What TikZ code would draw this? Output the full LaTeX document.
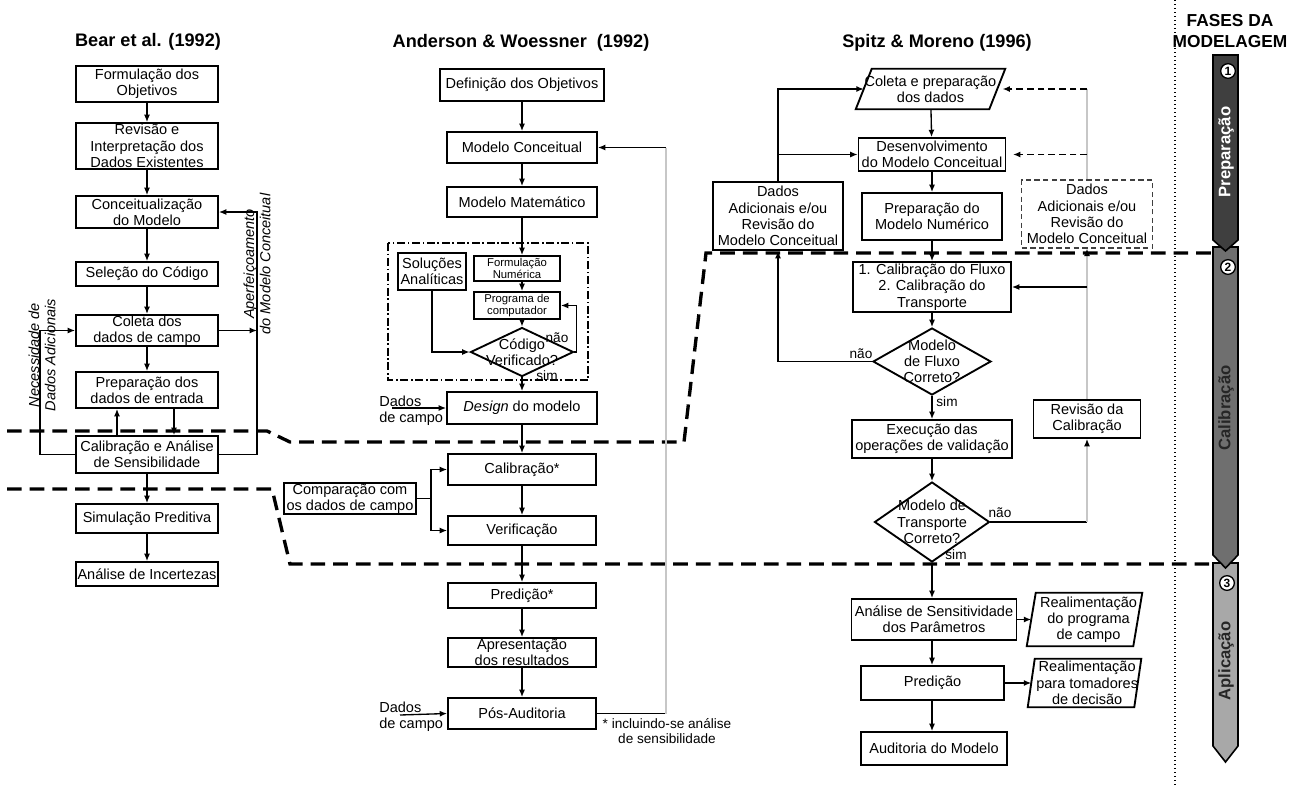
\documentclass[tikz,border=0pt]{standalone}
\usepackage{fontspec}
\setmainfont{Liberation Sans}
\usetikzlibrary{arrows.meta,shapes.geometric,calc}
\newcommand{\boxfont}{\fontsize{10.9}{12.2}\selectfont}
\newcommand{\itboxfont}{\fontsize{10.9}{12.2}\selectfont\itshape}
\newcommand{\lblfont}{\fontsize{10.2}{11.5}\selectfont}
\newcommand{\tinybox}{\fontsize{8.5}{9.2}\selectfont}
\newcommand{\ttlfont}{\fontsize{13.6}{16}\selectfont\bfseries}
\newcommand{\hdrfont}{\fontsize{13}{16}\selectfont\bfseries}
\newcommand{\phfont}{\fontsize{12.5}{12.5}\selectfont\bfseries}
\newcommand{\numfont}{\fontsize{9}{9}\selectfont\bfseries}
\definecolor{phA}{HTML}{3F3F3F}
\definecolor{phB}{HTML}{6F6F6F}
\definecolor{phC}{HTML}{A8A8A8}
\tikzset{
  bx/.style={draw, line width=1.4pt, fill=white, align=center, inner sep=0.5pt, font=\boxfont},
  wh/.style 2 args={minimum width=#1*0.75pt, minimum height=#2*0.75pt},
  dia/.style={diamond, draw, line width=1.4pt, fill=white, inner sep=0pt},
  paral/.style={align=center, inner sep=0pt, font=\boxfont},
  pline/.style={line width=1.4pt, fill=white},
  dlab/.style={font=\boxfont, align=center, inner sep=0pt},
  arr/.style={line width=1pt, -{Latex[length=5.5pt,width=4.5pt]}},
  ln/.style={line width=1pt},
  grayln/.style={line width=1pt, draw=black!22},
  grayarr/.style={line width=1pt, draw=black!22, -{Latex[length=5.5pt,width=4.5pt,color=black]}},
  darr/.style={line width=1pt, dash pattern=on 5pt off 3pt, -{Latex[length=5.5pt,width=4.5pt]}},
  dashbx/.style={bx, line width=1pt, draw=black!75, dash pattern=on 4pt off 2.5pt},
  phline/.style={line width=2.5pt, dash pattern=on 11pt off 6pt},
  dotl/.style={line width=1.2pt, dash pattern=on 1.1pt off 1.9pt},
  ddash/.style={line width=1.1pt, dash pattern=on 6pt off 2pt on 1.2pt off 2pt},
  lbl/.style={font=\lblfont, inner sep=0pt},
  rotlbl/.style={rotate=90, align=center, font=\itboxfont, inner sep=0pt},
  ttl/.style={font=\ttlfont, inner sep=0pt},
  phtext/.style={rotate=90, font=\phfont, inner sep=0pt},
  numc/.style={circle, draw, fill=white, line width=1pt, inner sep=0pt, minimum size=11pt, font=\numfont},
}
\begin{document}
\begin{tikzpicture}[x=0.75pt, y=-0.75pt]
\useasboundingbox (0,0) rectangle (1298,786);
\fill[white] (0,0) rectangle (1298,786);

% phase boundaries and dotted separator
\draw[dotl] (1175,0) -- (1175,786);
\draw[phline] (7,431) -- (267,431) -- (290,442) -- (684,442) -- (706,253) -- (1213,253);
\draw[phline] (7,489) -- (272,489) -- (290,564) -- (1213,564);

% titles
\node[ttl] (t1) at (148,42) {Bear et al. (1992)};
\node[ttl] (t2) at (521,43) {Anderson \& Woessner\ \ (1992)};
\node[ttl] (t3) at (937,43) {Spitz \& Moreno (1996)};
\node[font=\hdrfont, align=center, inner sep=0pt] (fases) at (1230,31) {FASES DA\\MODELAGEM};

% ---------------- Bear et al.
\node[bx, wh={142}{36}] (b1) at (147,84) {Formulação dos\\Objetivos};
\node[bx, wh={142}{46}] (b2) at (147,146) {Revisão e\\Interpretação dos\\Dados Existentes};
\node[bx, wh={142}{32}] (b3) at (147,212) {Conceitualização\\do Modelo};
\node[bx, wh={142}{24}] (b4) at (147,274) {Seleção do Código};
\node[bx, wh={142}{29}] (b5) at (147,330.5) {Coleta dos\\dados de campo};
\node[bx, wh={142}{36}] (b6) at (147,390) {Preparação dos\\dados de entrada};
\node[bx, wh={142}{37}] (b7) at (147,454.5) {Calibração e Análise\\de Sensibilidade};
\node[bx, wh={142}{29}] (b8) at (147,518.5) {Simulação Preditiva};
\node[bx, wh={142}{24}] (b9) at (147,574) {Análise de Incertezas};
\foreach \a/\b in {b1/b2,b2/b3,b3/b4,b4/b5,b5/b6,b7/b8,b8/b9} \draw[arr] (\a) -- (\b);
\draw[arr] ([xshift=-22.5pt]b7.north) -- ([xshift=-22.5pt]b6.south);
\draw[arr] ([xshift=20.25pt]b6.south) -- ([xshift=20.25pt]b7.north);
\coordinate (fbL) at (40,0);
\coordinate (fbR) at (257,0);
\draw[arr] (b7.west) -| (fbL |- b5.west) -- (b5.west);
\draw[arr] (b7.east) -| (fbR |- b3.east) -- (b3.east);
\draw[arr] (b5.east) -- (fbR |- b5.east);
\node[rotlbl] (nda) at (42,355) {Necessidade de\\Dados Adicionais};
\node[rotlbl] (amc) at (257,264) {Aperfeiçoamento\\do Modelo Conceitual};

% ---------------- Anderson & Woessner
\node[bx, wh={164}{32}] (a1) at (522,85) {Definição dos Objetivos};
\node[bx, wh={150}{31}] (a2) at (522,147.5) {Modelo Conceitual};
\node[bx, wh={150}{30}] (a3) at (522,202) {Modelo Matemático};
\draw[ddash] (388,243) rectangle (588,380);
\node[bx, wh={68}{37}] (sol) at (432,271.5) {Soluções\\Analíticas};
\node[bx, wh={86}{25}, font=\tinybox] (fn) at (517,268.5) {Formulação\\Numérica};
\node[bx, wh={86}{27}, font=\tinybox] (prog) at (517,305.5) {Programa de\\computador};
\node[dia, wh={103}{49}, label={[dlab]center:{Código\\Verificado?}}] (cv) at (522,352) {};
\node[lbl] (nao1) at (557,338) {não};
\node[lbl] (sim1) at (547,376) {sim};
\node[bx, wh={150}{32}] (a4) at (522,408) {\textit{Design} do modelo};
\node[lbl, align=left, anchor=west, font=\boxfont] (dc1) at (379,411) {Dados\\de campo};
\coordinate (dc1a) at (392,408);
\node[bx, wh={148}{31}] (a5) at (522,469.5) {Calibração*};
\node[bx, wh={148}{29}] (a6) at (522,530.5) {Verificação};
\node[bx, wh={132}{31}] (cmp) at (350,498.5) {Comparação com\\os dados de campo};
\coordinate (fork) at (431,498.5);
\node[bx, wh={148}{25}] (a7) at (522,595.5) {Predição*};
\node[bx, wh={148}{29}] (a8) at (522,652.5) {Apresentação\\dos resultados};
\node[bx, wh={148}{31}] (a9) at (522,713.5) {Pós-Auditoria};
\node[lbl, align=left, anchor=west, font=\boxfont] (dc2) at (379,717) {Dados\\de campo};
\coordinate (dc2a) at (400,715);
\node[lbl, align=center] (fnote) at (667,731) {* incluindo-se análise\\de sensibilidade};
\coordinate (fbA) at (666,0);

\draw[arr] (a1) -- (a2);
\draw[arr] (a2) -- (a3);
\draw[arr] (a3.south) -- (a3.south |- fn.north);
\draw[arr] (a3.south |- fn.south) -- (a3.south |- prog.north);
\draw[arr] (a3.south |- prog.south) -- (cv.north);
\draw[arr] (sol.south) |- (cv.west);
\draw[arr] (cv.east) -- ++(2,0) |- (prog.east);
\draw[arr] (cv.south) -- (a4.north);
\draw[arr] (dc1a) -- (a4.west);
\draw[arr] (a4) -- (a5);
\draw[ln] (cmp.east) -- (fork);
\draw[arr] (fork) |- (a5.west);
\draw[arr] (fork) |- (a6.west);
\draw[arr] (a5) -- (a6);
\draw[arr] (a6) -- (a7);
\draw[arr] (a7) -- (a8);
\draw[arr] (a8) -- (a9);
\draw[arr] (dc2a) -- (a9.west);
\draw[ln] (a9.east) -- (fbA |- a9.east);
\draw[grayln] (fbA |- a9.east) -- (fbA |- a2.east);
\draw[arr] (fbA |- a2.east) -- (a2.east);

% ---------------- Spitz & Moreno
\node[paral, wh={133}{40}] (s1) at (930.5,89) {};
\draw[pline] ($(s1.south west)+(-8,0)$) -- ($(s1.south east)+(-8,0)$) -- ($(s1.north east)+(8,0)$) -- ($(s1.north west)+(8,0)$) -- cycle;
\node[paral] (s1t) at (s1) {Coleta e preparação\\dos dados};
\node[bx, wh={147}{33}] (s2) at (932,154.5) {Desenvolvimento\\do Modelo Conceitual};
\node[bx, wh={140}{47}] (s3) at (932,216.5) {Preparação do\\Modelo Numérico};
\node[bx, wh={130}{68}] (sL) at (778,216) {Dados\\Adicionais e/ou\\Revisão do\\Modelo Conceitual};
\node[dashbx, wh={131}{68}] (sR) at (1087,214) {Dados\\Adicionais e/ou\\Revisão do\\Modelo Conceitual};
\node[bx, wh={158}{50}] (s4) at (932,287) {1. Calibração do Fluxo\\2. Calibração do\\Transporte};
\node[dia, wh={118}{67}, label={[dlab]center:{Modelo\\de Fluxo\\Correto?}}] (d1) at (932,361.5) {};
\node[bx, wh={160}{38}] (s5) at (932,439) {Execução das\\operações de validação};
\node[dia, wh={115}{80}, label={[dlab]center:{Modelo de\\Transporte\\Correto?}}] (d2) at (932,522) {};
\node[bx, wh={107}{38}] (rev) at (1087,419) {Revisão da\\Calibração};
\node[bx, wh={165}{41}] (s6) at (934,619.5) {Análise de Sensitividade\\dos Parâmetros};
\node[paral, wh={106}{53}] (p1) at (1084.5,619.5) {};
\draw[pline] ($(p1.south west)+(-4.5,0)$) -- ($(p1.south east)+(-4.5,0)$) -- ($(p1.north east)+(4.5,0)$) -- ($(p1.north west)+(4.5,0)$) -- cycle;
\node[paral, xshift=3pt] (p1t) at (p1) {Realimentação\\do programa\\de campo};
\node[bx, wh={143}{34}] (s7) at (932.5,683) {Predição};
\node[paral, wh={106}{48}] (p2) at (1084.5,683) {};
\draw[pline] ($(p2.south west)+(-3.5,0)$) -- ($(p2.south east)+(-3.5,0)$) -- ($(p2.north east)+(3.5,0)$) -- ($(p2.north west)+(3.5,0)$) -- cycle;
\node[paral, xshift=2pt] (p2t) at (p2) {Realimentação\\para tomadores\\de decisão};
\node[bx, wh={146}{33}] (s8) at (934,748.5) {Auditoria do Modelo};
\node[lbl] (nao2) at (861,354) {não};
\node[lbl] (sim2) at (947,402) {sim};
\node[lbl] (nao3) at (1000,513) {não};
\node[lbl] (sim3) at (956,555) {sim};

\draw[arr] (s1) -- (s2);
\draw[arr] (s2) -- (s3);
\draw[arr] (s3) -- (s4);
\draw[arr] (s4) -- (d1);
\draw[arr] (d1) -- (s5);
\draw[arr] (s5) -- (d2);
\draw[arr] (d2.south) -- (d2.south |- s6.north);
\draw[arr] (d2.south |- s6.south) -- (d2.south |- s7.north);
\draw[arr] (d2.south |- s7.south) -- (d2.south |- s8.north);
\draw[arr] (s6.east) -- (p1.west);
\draw[arr] (s7.east) -- (p2.west);
\draw[arr] (sL.north) |- (s1.west);
\draw[arr] (sL.north |- s2.west) -- (s2.west);
\draw[arr] (d1.west) -| (sL.south);
\draw[grayln] (sR.north) -- (sR.north |- s1.east);
\draw[darr, shorten >=4pt] (sR.north |- s1.east) -- (s1.east);
\draw[darr, shorten >=5pt] (sR.north |- s2.east) -- (s2.east);
\draw[ln] (d2.east) -- (rev.south |- d2.east);
\draw[grayarr] (rev.south |- d2.east) -- (rev.south);
\draw[grayarr] (rev.north) -- (sR.south);
\draw[arr] (rev.north |- s4.east) -- (s4.east);

% ---------------- phase bars
\filldraw[fill=phC, line width=1.2pt] (1213,563) -- (1238,563) -- (1238,746) -- (1225.5,762) -- (1213,746) -- cycle;
\filldraw[fill=phB, line width=1.2pt] (1213,247) -- (1238,247) -- (1238,555) -- (1225.5,568) -- (1213,555) -- cycle;
\filldraw[fill=phA, line width=1.2pt] (1213,55) -- (1238,55) -- (1238,240) -- (1225.5,251) -- (1213,240) -- cycle;
\node[phtext, text=white] (ph1) at (1226,152) {Preparação};
\node[phtext, text=black!85] (ph2) at (1226,408) {Calibração};
\node[phtext, text=black!85] (ph3) at (1226,661) {Aplicação};
\node[numc] (n1) at (1228,71) {1};
\node[numc] (n2) at (1228,267) {2};
\node[numc] (n3) at (1227,583) {3};
\end{tikzpicture}
\end{document}
